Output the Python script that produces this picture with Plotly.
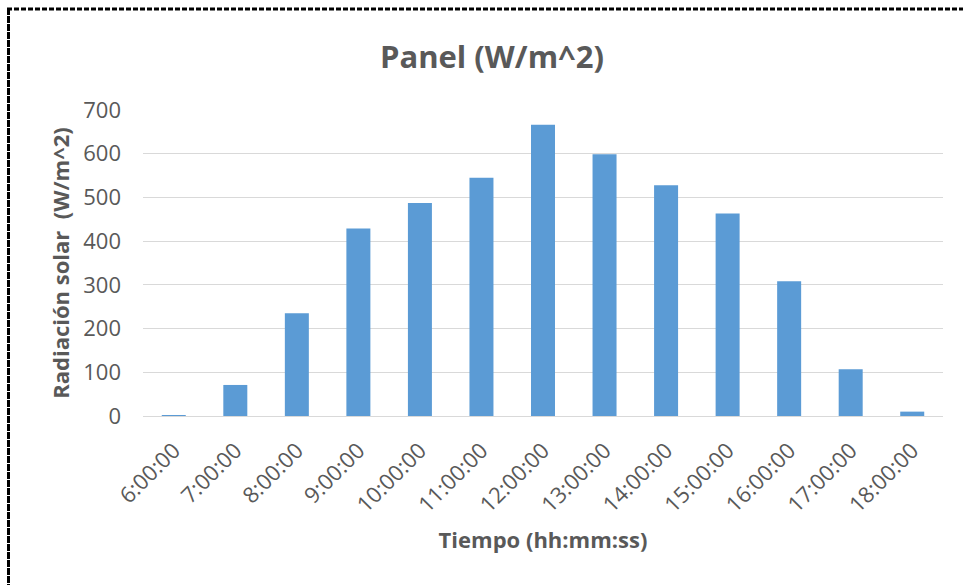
import plotly.graph_objects as go

hours = ["6:00:00", "7:00:00", "8:00:00", "9:00:00", "10:00:00", "11:00:00", "12:00:00",
         "13:00:00", "14:00:00", "15:00:00", "16:00:00", "17:00:00", "18:00:00"]
radiation = [2, 71, 235, 429, 487, 545, 666, 599, 528, 463, 308, 107, 10]
y_ticks = [0, 100, 200, 300, 400, 500, 600, 700]

W, H = 963, 585
L, R, T, B = 143, 20, 110, 169
pw, ph = W - L - R, H - T - B

def px(x):
    return (x - L) / pw

def py(y):
    return (H - B - y) / ph

FONT = "Open Sans"
GREY = "#595959"

fig = go.Figure(go.Bar(
    x=hours, y=radiation,
    marker=dict(color="#5B9BD5", line=dict(width=0)),
))

fig.update_layout(
    width=W, height=H,
    margin=dict(l=L, r=R, t=T, b=B),
    paper_bgcolor="white", plot_bgcolor="white",
    bargap=0.61,
    showlegend=False,
    font=dict(family=FONT, color=GREY),
    title=dict(text="<b>Panel (W/m^2)</b>", x=492 / W, xanchor="center",
               y=1 - 57 / H, yanchor="middle",
               font=dict(family=FONT, size=31, color=GREY)),
    xaxis=dict(
        tickangle=-45, tickfont=dict(size=22, color=GREY),
        showgrid=False, showline=True, linecolor="#D9D9D9", linewidth=1,
        ticks="", ticklabelstandoff=12,
        title=dict(text="<b>Tiempo (hh:mm:ss)</b>", font=dict(size=22, color=GREY), standoff=15),
    ),
    yaxis=dict(
        range=[0, 700], tickvals=y_ticks, tickfont=dict(size=22, color=GREY),
        showgrid=True, gridcolor="#D9D9D9", gridwidth=1, zeroline=False,
        ticks="", ticklabelstandoff=21,
        title=dict(text="<b>Radiación solar  (W/m^2)</b>", font=dict(size=22, color=GREY), standoff=7),
    ),
    shapes=[
        dict(type="line", xref="paper", yref="paper",
             x0=px(8.5), x1=px(8.5), y0=py(8), y1=py(600),
             line=dict(color="black", width=3, dash="7px,1px")),
        dict(type="line", xref="paper", yref="paper",
             x0=px(7), x1=px(975), y0=py(9), y1=py(9),
             line=dict(color="black", width=3, dash="5px,2px")),
    ],
)

fig.write_html("out.html")
